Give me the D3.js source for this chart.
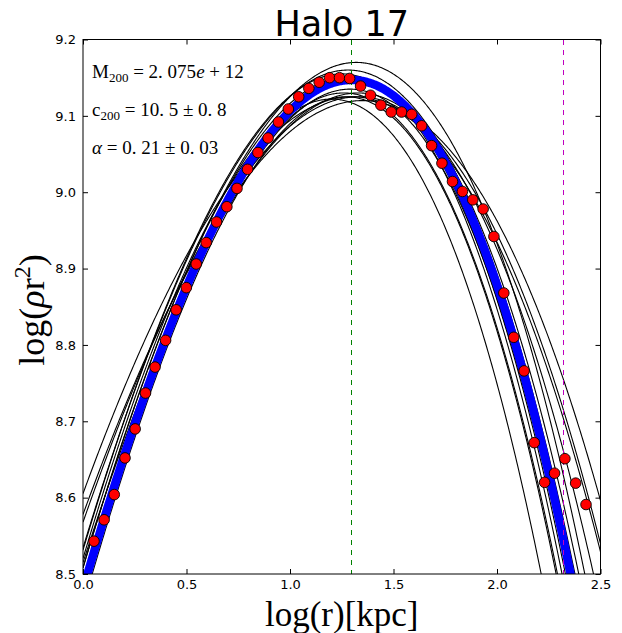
<!DOCTYPE html>
<html>
<head>
<meta charset="utf-8">
<script src="https://cdn.jsdelivr.net/npm/d3@7"></script>
<style>
  body { margin: 0; background: #fff; }
  svg { display: block; }
</style>
</head>
<body>
<svg id="chart" width="622" height="633"></svg>
<script>
// Measured profile: log radius [kpc] and log(rho r^2)
const logR = [0.053, 0.102, 0.151, 0.203, 0.252, 0.302, 0.348, 0.399, 0.450, 0.499,
  0.547, 0.595, 0.645, 0.695, 0.744, 0.795, 0.845, 0.894, 0.944, 0.992,
  1.042, 1.091, 1.141, 1.191, 1.239, 1.288, 1.341, 1.389, 1.439, 1.489,
  1.539, 1.588, 1.636, 1.684, 1.734, 1.785, 1.833, 1.883, 1.933, 1.985,
  2.033, 2.081, 2.131, 2.180, 2.230, 2.278, 2.328, 2.380, 2.430];
const logRhoR2 = [8.543, 8.571, 8.604, 8.652, 8.690, 8.737, 8.771, 8.806, 8.846, 8.875,
  8.906, 8.934, 8.961, 8.981, 9.005, 9.030, 9.052, 9.071, 9.092, 9.109,
  9.125, 9.136, 9.144, 9.150, 9.150, 9.149, 9.139, 9.127, 9.114, 9.105,
  9.105, 9.102, 9.087, 9.061, 9.038, 9.014, 9.001, 8.990, 8.978, 8.942,
  8.868, 8.810, 8.766, 8.672, 8.620, 8.632, 8.651, 8.619, 8.591];

// Einasto best fit: log r_-2, peak log(rho r^2), shape alpha
const bestLogR2 = 1.297;
const bestPeak = 9.147;
const bestAlpha = 0.21;

// Einasto fits to resampled profiles
const sampleLogR2 = [1.35, 1.33, 1.33, 1.30, 1.32, 1.28, 1.27, 1.31, 1.25, 1.20, 1.27, 1.26, 1.29];
const samplePeak  = [9.120, 9.125, 9.130, 9.125, 9.170, 9.160, 9.150, 9.145, 9.155, 9.122, 9.125, 9.130, 9.135];
const sampleAlpha = [0.15, 0.16, 0.18, 0.155, 0.20, 0.20, 0.21, 0.20, 0.21, 0.22, 0.22, 0.215, 0.21];

// Virial radius (log kpc)
const logR200 = 2.32;

const xTicks = [0.0, 0.5, 1.0, 1.5, 2.0, 2.5];
const yTicks = [8.5, 8.6, 8.7, 8.8, 8.9, 9.0, 9.1, 9.2];
const chartTitle = "Halo 17";

const svg = d3.select("#chart");
const plot = { left: 83, right: 600.5, top: 39.5, bottom: 574 };

const x = d3.scaleLinear().domain([0, 2.5]).range([plot.left, plot.right]);
const y = d3.scaleLinear().domain([8.5, 9.2]).range([plot.bottom, plot.top]);

// log(rho r^2) for an Einasto profile
function einasto(lr, lr2, peak, alpha) {
  const u = lr - lr2;
  return peak + 2 * u - (2 / (alpha * Math.LN10)) * (Math.pow(10, alpha * u) - 1);
}

const grid = d3.range(0, 2.5001, 0.005);
const line = d3.line().x(d => x(d[0])).y(d => y(d[1]));

svg.append("defs").append("clipPath").attr("id", "clip")
  .append("rect")
  .attr("x", plot.left).attr("y", plot.top)
  .attr("width", plot.right - plot.left).attr("height", plot.bottom - plot.top);

const g = svg.append("g").attr("clip-path", "url(#clip)");

// resampled fits
sampleLogR2.forEach((lr2, i) => {
  g.append("path")
    .attr("d", line(grid.map(v => [v, einasto(v, lr2, samplePeak[i], sampleAlpha[i])])))
    .attr("fill", "none")
    .attr("stroke", "#000")
    .attr("stroke-width", 1.1);
});

// best fit
g.append("path")
  .attr("d", line(grid.map(v => [v, einasto(v, bestLogR2, bestPeak, bestAlpha)])))
  .attr("fill", "none")
  .attr("stroke", "#0000ff")
  .attr("stroke-width", 8.5);

// r_-2 and r_200 markers
[[bestLogR2, "#008000"], [logR200, "#bf00bf"]].forEach(([v, c]) => {
  const px = Math.round(x(v)) + 0.5;
  g.append("line")
    .attr("x1", px).attr("x2", px)
    .attr("y1", plot.top).attr("y2", plot.bottom)
    .attr("stroke", c).attr("stroke-width", 1).attr("stroke-dasharray", "5,5")
    .attr("shape-rendering", "crispEdges");
});

// data points
g.selectAll("circle.pt").data(logR).enter().append("circle")
  .attr("class", "pt")
  .attr("cx", d => x(d))
  .attr("cy", (d, i) => y(logRhoR2[i]))
  .attr("r", 5.3)
  .attr("fill", "#ff0000")
  .attr("stroke", "#000")
  .attr("stroke-width", 0.9);

// frame
svg.append("rect")
  .attr("x", plot.left).attr("y", plot.top)
  .attr("width", plot.right - plot.left).attr("height", plot.bottom - plot.top)
  .attr("fill", "none").attr("stroke", "#000").attr("stroke-width", 1);

// axes with inward ticks on all four sides
const tickFont = "DejaVu Sans, sans-serif";
const xb = svg.append("g").attr("transform", `translate(0,${plot.bottom})`)
  .call(d3.axisBottom(x).tickValues(xTicks).tickFormat(d3.format(".1f")).tickSizeInner(-5).tickSizeOuter(0).tickPadding(6));
const xt = svg.append("g").attr("transform", `translate(0,${plot.top})`)
  .call(d3.axisTop(x).tickValues(xTicks).tickFormat("").tickSizeInner(-5).tickSizeOuter(0));
const yl = svg.append("g").attr("transform", `translate(${plot.left},0)`)
  .call(d3.axisLeft(y).tickValues(yTicks).tickFormat(d3.format(".1f")).tickSizeInner(-5).tickSizeOuter(0).tickPadding(7));
const yr = svg.append("g").attr("transform", `translate(${plot.right},0)`)
  .call(d3.axisRight(y).tickValues(yTicks).tickFormat("").tickSizeInner(-5).tickSizeOuter(0));
[xb, xt, yl, yr].forEach(a => {
  a.select(".domain").remove();
  a.selectAll(".tick line").attr("stroke", "#000").attr("stroke-width", 1);
  a.selectAll("text").attr("font-family", tickFont).attr("font-size", 13).attr("fill", "#000");
});

// title
svg.append("text")
  .attr("x", (plot.left + plot.right) / 2).attr("y", 36)
  .attr("text-anchor", "middle")
  .attr("font-family", "DejaVu Sans, sans-serif")
  .attr("font-size", 35)
  .text(chartTitle);

const serif = "Liberation Serif, Times New Roman, serif";

// x label
svg.append("text")
  .attr("x", (plot.left + plot.right) / 2).attr("y", 626)
  .attr("text-anchor", "middle")
  .attr("font-family", serif).attr("font-size", 35)
  .text("log(r)[kpc]");

// y label
const ylab = svg.append("text")
  .attr("transform", "translate(44,310) rotate(-90)")
  .attr("text-anchor", "middle")
  .attr("font-family", serif).attr("font-size", 36);
ylab.append("tspan").text("log(");
ylab.append("tspan").attr("font-style", "italic").text("ρ");
ylab.append("tspan").text("r");
ylab.append("tspan").attr("font-size", 24).attr("dy", -14).text("2");
ylab.append("tspan").attr("dy", 14).text(")");

// fit parameters
function annot(yPos, build) {
  const t = svg.append("text").attr("x", 92).attr("y", yPos)
    .attr("font-family", serif).attr("font-size", 19);
  build(t);
}
annot(78, t => {
  t.append("tspan").text("M");
  t.append("tspan").attr("font-size", 13).attr("dy", 4).text("200");
  t.append("tspan").attr("dy", -4).text(" = 2. 075");
  t.append("tspan").attr("font-style", "italic").text("e");
  t.append("tspan").text(" + 12");
});
annot(116, t => {
  t.append("tspan").text("c");
  t.append("tspan").attr("font-size", 13).attr("dy", 4).text("200");
  t.append("tspan").attr("dy", -4).text(" = 10. 5 ± 0. 8");
});
annot(154, t => {
  t.append("tspan").attr("font-style", "italic").text("α");
  t.append("tspan").text(" = 0. 21 ± 0. 03");
});
</script>
</body>
</html>
